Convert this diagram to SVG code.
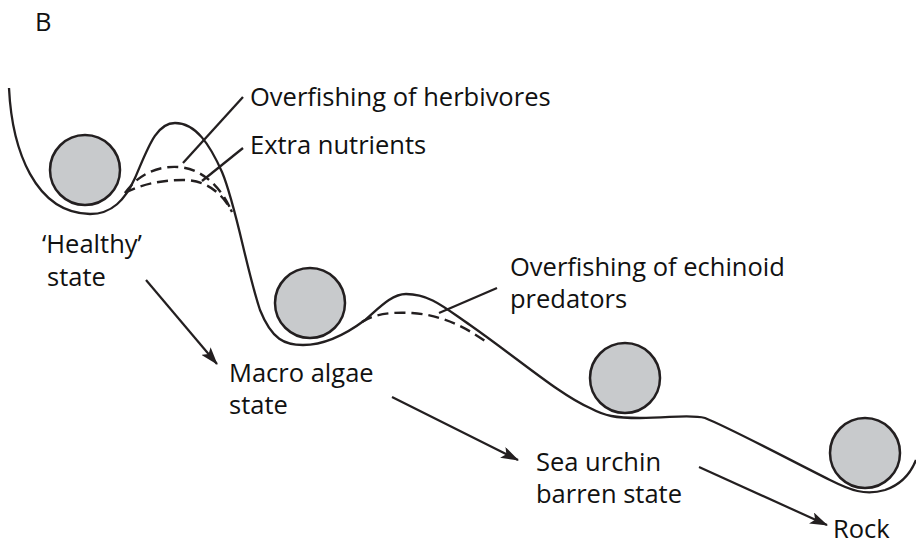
<svg xmlns="http://www.w3.org/2000/svg" width="916" height="545" viewBox="0 0 916 545">
<style>
text{font-family:"Open Sans","Liberation Sans",Arial,sans-serif;font-size:25.5px;fill:#111}
.ln{fill:none;stroke:#231f20;stroke-width:2.3}
.ds{fill:none;stroke:#231f20;stroke-width:2.4;stroke-dasharray:11 6}
.ball{fill:#c8cacc;stroke:#231f20;stroke-width:2.5}
.ar{fill:none;stroke:#231f20;stroke-width:2.2;marker-end:url(#ah)}
</style>
<defs>
<marker id="ah" markerUnits="userSpaceOnUse" markerWidth="18" markerHeight="12" refX="17" refY="6" orient="auto">
<path d="M0,0 L18,6 L0,12 L4,6 Z" fill="#231f20"/>
</marker>
</defs>
<rect width="916" height="545" fill="#fff"/>
<text x="35" y="31">B</text>
<g id="landscape">
<path class="ln" d="M9,88 C12,150 35,213 90,214 C112,214 125,200 135,178 C148,148 156,123 175,123 C196,123 210,145 222,172 C236,205 246,268 260,310 C272,340 285,345 303,345 C325,345 345,335 365,320 C380,307 392,294 406,294 C430,294 445,308 470,325 C520,360 560,395 590,408 C605,416 615,418 640,418 C670,418 690,414 705,418 C730,428 790,460 830,480 C850,490 865,496 885,490 C900,485 910,475 916,460"/>
<path class="ds" d="M125,193 C140,172 160,166 178,167 C200,168 220,185 231,210"/>
<path class="ds" d="M125,193 C140,185 160,180 183,180 C205,180 222,192 232,212"/>
<path class="ds" d="M362,322 C375,313 395,312 412,313 C440,315 462,325 485,341"/>
</g>
<g id="ball1"><circle class="ball" cx="85" cy="170" r="35"/></g>
<g id="ball2"><circle class="ball" cx="310" cy="303" r="35"/></g>
<g id="ball3"><circle class="ball" cx="625" cy="378" r="35"/></g>
<g id="ball4"><circle class="ball" cx="865" cy="453" r="35"/></g>
<g id="herbivores"><text x="250" y="106">Overfishing of herbivores</text></g>
<g id="nutrients"><text x="250" y="154">Extra nutrients</text></g>
<g id="echinoid"><text x="510" y="276">Overfishing of echinoid</text><text x="510" y="308">predators</text></g>
<g id="healthy"><text x="42" y="253">‘Healthy’</text><text x="47" y="286">state</text></g>
<g id="macro"><text x="229" y="382">Macro algae</text><text x="229" y="414">state</text></g>
<g id="urchin"><text x="536" y="471">Sea urchin</text><text x="536" y="503">barren state</text></g>
<g id="rock"><text x="833" y="538">Rock</text></g>
<g id="connectors">
<line class="ln" x1="243" y1="97" x2="183" y2="163"/>
<line class="ln" x1="243" y1="148" x2="202" y2="181"/>
<line class="ln" x1="497" y1="288" x2="439" y2="313"/>
<line class="ar" x1="146" y1="280" x2="217" y2="364"/>
<line class="ar" x1="392" y1="397" x2="518" y2="460"/>
<line class="ar" x1="699" y1="467" x2="827" y2="525"/>
</g>
</svg>
